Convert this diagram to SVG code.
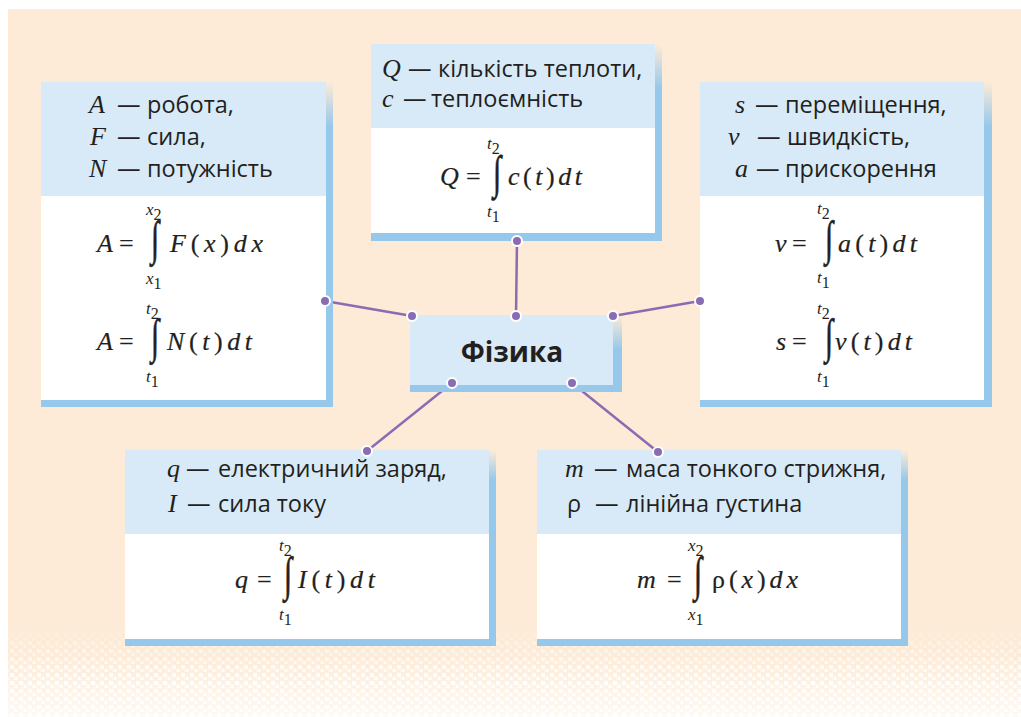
<svg xmlns="http://www.w3.org/2000/svg" width="1021" height="717" viewBox="0 0 1021 717">
<style>
.hd{font-family:"Open Sans","Noto Sans","Liberation Sans",sans-serif;font-size:23.5px;fill:#231f20}
.mv{font-family:"Liberation Serif","DejaVu Serif",serif;font-style:italic;font-size:26px;fill:#231f20}
.fm{font-family:"Liberation Serif","DejaVu Serif",serif;font-size:26px;fill:#231f20;stroke:#231f20;stroke-width:0.2}
.fi{font-style:italic}
.lim{font-family:"Liberation Serif","DejaVu Serif",serif;font-style:italic;font-size:17px;fill:#231f20}
.sub{font-style:normal;font-size:16px}
.int{font-family:"Liberation Serif","DejaVu Serif",serif;font-size:30px;fill:#231f20;stroke:#231f20;stroke-width:0.4;text-anchor:middle}
.title{font-family:"Open Sans","Noto Sans","Liberation Sans",sans-serif;font-weight:bold;font-size:28px;fill:#231f20;text-anchor:middle}
.hdr{fill:#d8eaf7}
.bdy{fill:#ffffff}
.sh{fill:#95c8ea}
.con line{stroke:#8a6cb3;stroke-width:2.5}
.dot{fill:#8a6cb3;stroke:#ffffff;stroke-width:2}
</style>
<defs>
<linearGradient id="fadeUp" x1="0" y1="0" x2="0" y2="1">
<stop offset="0" stop-color="#95c8ea" stop-opacity="0"/>
<stop offset="1" stop-color="#95c8ea" stop-opacity="1"/>
</linearGradient>
<pattern id="dots" width="9" height="8" patternUnits="userSpaceOnUse">
<rect x="1" y="1" width="4" height="4" fill="#ffffff"/>
<rect x="5.5" y="5" width="3" height="3" fill="#ffffff"/>
</pattern>
<linearGradient id="mgrad" x1="0" y1="0" x2="0" y2="1">
<stop offset="0" stop-color="#fff" stop-opacity="0"/>
<stop offset="0.6" stop-color="#fff" stop-opacity="1"/>
<stop offset="1" stop-color="#fff" stop-opacity="1"/>
</linearGradient>
<mask id="dmask" maskUnits="userSpaceOnUse" x="0" y="625" width="1021" height="92">
<rect x="0" y="625" width="1021" height="92" fill="url(#mgrad)"/>
</mask>
<linearGradient id="wfade" x1="0" y1="0" x2="0" y2="1">
<stop offset="0" stop-color="#ffffff" stop-opacity="0"/>
<stop offset="1" stop-color="#ffffff" stop-opacity="0.75"/>
</linearGradient>
</defs>

<rect x="0" y="0" width="1021" height="717" fill="#ffffff"/>
<rect x="8" y="9" width="1013" height="708" fill="#fdebd7"/>
<rect x="8" y="625" width="1013" height="92" fill="url(#dots)" mask="url(#dmask)"/>
<rect x="8" y="655" width="1013" height="62" fill="url(#wfade)"/>

<g id="connectors" class="con">
<line x1="325" y1="301" x2="412" y2="316"/>
<line x1="517" y1="241" x2="516" y2="316"/>
<line x1="700" y1="301" x2="613" y2="316"/>
<line x1="452" y1="383" x2="367" y2="451"/>
<line x1="572" y1="383" x2="658" y2="452"/>
</g>

<g id="node-left">
<rect class="sh" x="41" y="400" width="292" height="7"/>
<rect x="326" y="82" width="7" height="45" fill="url(#fadeUp)"/>
<rect class="sh" x="326" y="127" width="7" height="280"/>
<rect class="hdr" x="41" y="82" width="285" height="114"/>
<rect class="bdy" x="41" y="196" width="285" height="204"/>
<text class="hd" y="113"><tspan class="mv" x="89">A</tspan><tspan x="117">—</tspan><tspan x="147">робота,</tspan></text>
<text class="hd" y="145"><tspan class="mv" x="90">F</tspan><tspan x="117">—</tspan><tspan x="147">сила,</tspan></text>
<text class="hd" y="177"><tspan class="mv" x="89">N</tspan><tspan x="117">—</tspan><tspan x="147">потужність</tspan></text>
<text class="fm fi" x="97" y="252">A</text>
<text class="fm" x="119" y="252">=</text>
<text class="int" transform="translate(155,254) scale(1,1.58)">∫</text>
<text class="fm" x="170" y="252" textLength="93" lengthAdjust="spacing"><tspan class="fi">F</tspan>(<tspan class="fi">x</tspan>)<tspan class="fi">dx</tspan></text>
<text class="lim" x="146" y="215">x<tspan class="sub" dy="5">2</tspan></text>
<text class="lim" x="146" y="284">x<tspan class="sub" dy="5">1</tspan></text>
<text class="fm fi" x="97" y="350">A</text>
<text class="fm" x="119" y="350">=</text>
<text class="int" transform="translate(155,352) scale(1,1.58)">∫</text>
<text class="fm" x="167" y="350" textLength="85" lengthAdjust="spacing"><tspan class="fi">N</tspan>(<tspan class="fi">t</tspan>)<tspan class="fi">dt</tspan></text>
<text class="lim" x="146" y="314">t<tspan class="sub" dy="5">2</tspan></text>
<text class="lim" x="146" y="382">t<tspan class="sub" dy="5">1</tspan></text>
<circle class="dot" cx="325" cy="301" r="5"/>
</g>

<g id="node-top">
<rect class="sh" x="371" y="233" width="291" height="8"/>
<rect x="655" y="44" width="7" height="45" fill="url(#fadeUp)"/>
<rect class="sh" x="655" y="89" width="7" height="152"/>
<rect class="hdr" x="371" y="44" width="284" height="84"/>
<rect class="bdy" x="371" y="128" width="284" height="105"/>
<text class="hd" y="77"><tspan class="mv" x="382">Q</tspan><tspan x="408">—</tspan><tspan x="438">кількість теплоти,</tspan></text>
<text class="hd" y="107"><tspan class="mv" x="382">c</tspan><tspan x="403">—</tspan><tspan x="431">теплоємність</tspan></text>
<text class="fm fi" x="440" y="185">Q</text>
<text class="fm" x="466" y="185">=</text>
<text class="int" transform="translate(497,188) scale(1,1.55)">∫</text>
<text class="fm" x="508" y="185" textLength="74" lengthAdjust="spacing"><tspan class="fi">c</tspan>(<tspan class="fi">t</tspan>)<tspan class="fi">dt</tspan></text>
<text class="lim" x="487" y="149">t<tspan class="sub" dy="5">2</tspan></text>
<text class="lim" x="487" y="217">t<tspan class="sub" dy="5">1</tspan></text>
<circle class="dot" cx="517" cy="241" r="5"/>
</g>

<g id="node-right">
<rect class="sh" x="700" y="400" width="292" height="7"/>
<rect x="984" y="82" width="8" height="45" fill="url(#fadeUp)"/>
<rect class="sh" x="984" y="127" width="8" height="280"/>
<rect class="hdr" x="700" y="82" width="284" height="114"/>
<rect class="bdy" x="700" y="196" width="284" height="204"/>
<text class="hd" y="113"><tspan class="mv" x="735">s</tspan><tspan x="755">—</tspan><tspan x="785">переміщення,</tspan></text>
<text class="hd" y="145"><tspan class="mv" x="728">v</tspan><tspan x="757">—</tspan><tspan x="787">швидкість,</tspan></text>
<text class="hd" y="177"><tspan class="mv" x="735">a</tspan><tspan x="756">—</tspan><tspan x="785">прискорення</tspan></text>
<text class="fm fi" x="775" y="252">v</text>
<text class="fm" x="792" y="252">=</text>
<text class="int" transform="translate(829,254) scale(1,1.58)">∫</text>
<text class="fm" x="838" y="252" textLength="79" lengthAdjust="spacing"><tspan class="fi">a</tspan>(<tspan class="fi">t</tspan>)<tspan class="fi">dt</tspan></text>
<text class="lim" x="817" y="214">t<tspan class="sub" dy="5">2</tspan></text>
<text class="lim" x="817" y="283">t<tspan class="sub" dy="5">1</tspan></text>
<text class="fm fi" x="776" y="350">s</text>
<text class="fm" x="792" y="350">=</text>
<text class="int" transform="translate(829,352) scale(1,1.58)">∫</text>
<text class="fm" x="835" y="350" textLength="77" lengthAdjust="spacing"><tspan class="fi">v</tspan>(<tspan class="fi">t</tspan>)<tspan class="fi">dt</tspan></text>
<text class="lim" x="817" y="314">t<tspan class="sub" dy="5">2</tspan></text>
<text class="lim" x="817" y="382">t<tspan class="sub" dy="5">1</tspan></text>
<circle class="dot" cx="700" cy="301" r="5"/>
</g>

<g id="node-center">
<rect class="sh" x="410" y="385" width="212" height="7"/>
<rect x="613" y="315" width="9" height="35" fill="url(#fadeUp)"/>
<rect class="sh" x="613" y="350" width="9" height="42"/>
<rect class="hdr" x="410" y="315" width="203" height="70"/>
<text class="title" x="512" y="362">Фізика</text>
<circle class="dot" cx="412" cy="316" r="5"/>
<circle class="dot" cx="516" cy="316" r="5"/>
<circle class="dot" cx="613" cy="316" r="5"/>
<circle class="dot" cx="452" cy="383" r="5"/>
<circle class="dot" cx="572" cy="383" r="5"/>
</g>

<g id="node-bottom-left">
<rect class="sh" x="125" y="639" width="371" height="7"/>
<rect x="489" y="450" width="7" height="30" fill="url(#fadeUp)"/>
<rect class="sh" x="489" y="480" width="7" height="166"/>
<rect class="hdr" x="125" y="450" width="364" height="84"/>
<rect class="bdy" x="125" y="534" width="364" height="105"/>
<text class="hd" y="477"><tspan class="mv" x="167">q</tspan><tspan x="186">—</tspan><tspan x="218">електричний заряд,</tspan></text>
<text class="hd" y="512"><tspan class="mv" x="168">I</tspan><tspan x="187">—</tspan><tspan x="218">сила току</tspan></text>
<text class="fm fi" x="235" y="588">q</text>
<text class="fm" x="257" y="588">=</text>
<text class="int" transform="translate(288,590) scale(1,1.58)">∫</text>
<text class="fm" x="298" y="588" textLength="77" lengthAdjust="spacing"><tspan class="fi">I</tspan>(<tspan class="fi">t</tspan>)<tspan class="fi">dt</tspan></text>
<text class="lim" x="279" y="551">t<tspan class="sub" dy="5">2</tspan></text>
<text class="lim" x="279" y="620">t<tspan class="sub" dy="5">1</tspan></text>
<circle class="dot" cx="367" cy="451" r="5"/>
</g>

<g id="node-bottom-right">
<rect class="sh" x="537" y="639" width="371" height="7"/>
<rect x="901" y="450" width="7" height="30" fill="url(#fadeUp)"/>
<rect class="sh" x="901" y="480" width="7" height="166"/>
<rect class="hdr" x="537" y="450" width="364" height="84"/>
<rect class="bdy" x="537" y="534" width="364" height="105"/>
<text class="hd" y="477"><tspan class="mv" x="565">m</tspan><tspan x="594">—</tspan><tspan x="626">маса тонкого стрижня,</tspan></text>
<text class="hd" y="512"><tspan x="567">ρ</tspan><tspan x="595">—</tspan><tspan x="626">лінійна густина</tspan></text>
<text class="fm fi" x="637" y="588">m</text>
<text class="fm" x="667" y="588">=</text>
<text class="int" transform="translate(698,590) scale(1,1.58)">∫</text>
<text class="fm" x="712" y="588" textLength="86" lengthAdjust="spacing">ρ(<tspan class="fi">x</tspan>)<tspan class="fi">dx</tspan></text>
<text class="lim" x="688" y="551">x<tspan class="sub" dy="5">2</tspan></text>
<text class="lim" x="688" y="620">x<tspan class="sub" dy="5">1</tspan></text>
<circle class="dot" cx="658" cy="452" r="5"/>
</g>
</svg>
